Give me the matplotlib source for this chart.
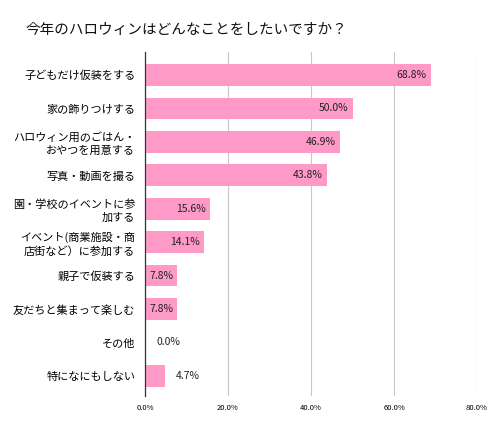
import matplotlib.pyplot as plt
from matplotlib.ticker import PercentFormatter

plt.rcParams['font.family'] = ['Noto Sans CJK JP', 'DejaVu Sans']

categories = [
    "子どもだけ仮装をする",
    "家の飾りつけする",
    "ハロウィン用のごはん・\nおやつを用意する",
    "写真・動画を撮る",
    "園・学校のイベントに参\n加する",
    "イベント(商業施設・商\n店街など）に参加する",
    "親子で仮装する",
    "友だちと集まって楽しむ",
    "その他",
    "特になにもしない",
]
values = [68.8, 50.0, 46.9, 43.8, 15.6, 14.1, 7.8, 7.8, 0.0, 4.7]
title = "今年のハロウィンはどんなことをしたいですか？"

bar_color = '#ff99c8'

fig = plt.figure(figsize=(4.98, 4.34), dpi=100)
ax = fig.add_axes([0.2912, 0.0876, 0.6667, 0.7934])

ypos = list(range(len(categories)))
ax.barh(ypos, values, height=0.65, color=bar_color, zorder=2)

ax.set_xlim(0, 80)
ax.set_ylim(9.6, -0.7)
ax.set_xticks([0, 20, 40, 60, 80])
ax.xaxis.set_major_formatter(PercentFormatter(decimals=1))
ax.tick_params(axis='x', labelsize=5.5, length=0, pad=6)
ax.set_yticks(ypos)
ax.set_yticklabels(categories, fontsize=8, linespacing=1.3)
ax.tick_params(axis='y', length=0, pad=7)

ax.grid(axis='x', color='#c8c8c8', linewidth=0.8, zorder=0)
for s in ['top', 'right', 'bottom']:
    ax.spines[s].set_visible(False)
ax.spines['left'].set_color('#333333')
ax.spines['left'].set_linewidth(0.9)
ax.spines['left'].set_zorder(3)

# value labels: inside the bar end when long enough, otherwise just outside
px = 80 / (0.6667 * 498)
for y, v in zip(ypos, values):
    txt = f"{v:.1f}%"
    if v >= 7:
        ax.text(v - 4 * px, y, txt, ha='right', va='center', fontsize=7.5, color='#222222', zorder=4)
    else:
        ax.text(v + 11 * px, y, txt, ha='left', va='center', fontsize=7.5, color='#222222', zorder=4)

fig.text(25 / 498, 1 - 30 / 434, title, fontsize=10.5, va='center', ha='left', color='#111111')

fig.savefig('out.png', dpi=100)
